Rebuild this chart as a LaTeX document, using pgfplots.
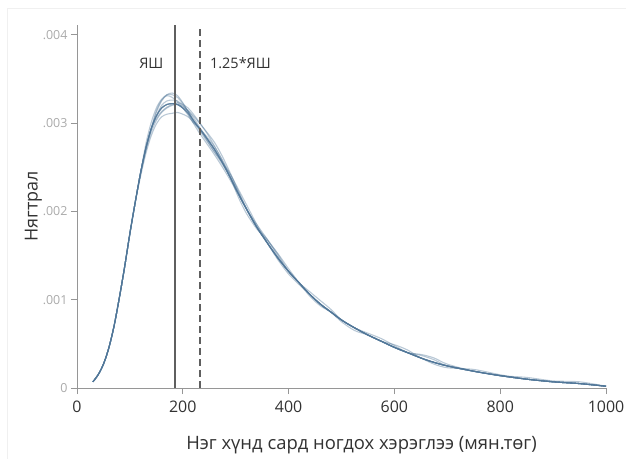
\documentclass[border=0pt]{standalone}
\usepackage{fontspec}
\setmainfont{Open Sans}
\usepackage{pgfplots}
\usepackage{pgfplotstable}
\pgfplotsset{compat=1.18}

\definecolor{curve}{RGB}{80,118,152}
\definecolor{vline}{RGB}{95,95,95}
\definecolor{axisgray}{RGB}{150,150,150}
\definecolor{ticklab}{RGB}{170,170,170}
\definecolor{labtext}{RGB}{50,50,50}

% density estimates, in units of 1e-5
\pgfplotstableread{
x    c1  c2  c3  c4  c5  c6  c7  c8  c9  c10 c11 c12
30   7   7   7   7   7   7   7   7   7   7   7   7
40   15  15  15  15  15  15  15  15  15  15  15  15
50   27  27  27  27  27  27  27  27  27  27  27  27
60   45  45  45  45  45  45  45  45  45  45  45  45
70   70  70  70  70  70  70  70  70  70  70  70  70
80   102 102 102 102 102 102 102 102 102 102 102 102
90   137 137 137 137 137 137 137 137 137 137 137 137
100  175 175 175 175 175 175 175 175 175 175 175 175
110  210 210 210 210 210 210 210 210 210 210 210 210
120  243 243 239 243 243 243 243 243 243 243 243 243
130  271 276 265 271 271 271 271 271 271 268 271 271
140  293 300 285 293 293 293 293 293 293 289 293 293
150  308 317 299 305 308 314 308 308 312 303 308 308
160  317 327 307 313 317 326 317 317 325 312 317 320
170  321 332 310 318 321 331 321 321 332 317 321 325
180  322 332 311 321 322 329 322 322 334 320 322 326
190  321 329 312 323 321 324 321 321 331 321 321 325
200  317 322 310 321 317 317 317 317 323 319 317 320
210  311 313 307 317 311 309 314 311 313 314 311 313
220  303 303 301 310 303 300 308 300 303 306 303 303
230  295 293 295 302 295 295 301 290 295 297 295 295
245  283 280 285 289 283 283 290 277 283 283 283 281
260  270 267 273 274 270 270 278 264 270 270 270 267
275  255 253 258 257 255 255 262 250 255 255 255 255
290  238 238 241 238 238 238 243 235 238 238 242 238
305  220 220 222 220 216 220 223 219 220 220 225 220
320  203 203 203 203 198 203 204 203 203 203 208 203
340  182 182 182 182 180 182 182 182 182 185 185 182
360  164 164 164 168 167 164 164 164 164 168 164 164
380  147 147 147 151 152 147 147 147 147 149 145 147
400  132 132 132 132 135 132 132 132 132 132 129 132
420  119 119 119 119 119 119 119 119 119 119 117 119
440  106 106 106 106 104 106 106 109 106 106 106 106
460  95  95  95  95  93  95  95  99  95  95  95  95
480  86  86  86  86  86  86  86  89  86  86  86  86
500  77  77  77  77  77  77  75  77  77  77  77  77
525  68  68  68  68  68  68  65  68  68  68  68  68
550  60  60  60  60  60  60  60  60  60  60  62  60
575  53  53  53  53  53  53  53  53  53  53  56  53
600  46  46  46  46  46  46  46  46  46  49  48  46
625  40  40  40  40  40  40  40  40  40  43  40  40
650  34  37  34  34  34  38  34  34  34  34  34  34
675  29  32  29  29  29  34  29  29  29  29  29  27
700  25  25  25  25  25  27  25  25  25  25  25  23
750  19  19  19  19  19  19  19  19  19  19  19  21
800  14  14  14  14  14  14  14  14  14  14  14  15
850  10  10  10  10  10  10  10  10  12  10  10  10
900  7   7   7   7   7   7   7   7   8   7   7   7
950  5   5   5   5   5   5   5   5   7   5   5   5
1000 2   2   2   2   2   2   2   2   2   2   2   2
}\dens

\begin{document}
\begin{tikzpicture}
\path[use as bounding box] (0,0) rectangle (626bp,459bp);
\draw[gray!12, line width=1bp] (7bp,0) -- (7bp,450bp) -- (626bp,450bp);
\begin{axis}[
    scale only axis,
    width=529bp, height=363bp,
    at={(77bp,71bp)}, anchor=south west,
    xmin=0, xmax=1000, ymin=0, ymax=411,
    axis lines*=left,
    axis line style={axisgray, line width=0.8bp},
    tick style={axisgray, line width=0.8bp},
    tick align=outside,
    major tick length=6bp,
    xtick={0,200,...,1000},
    ytick={0,100,200,300,400},
    yticklabels={0,.001,.002,.003,.004},
    /pgf/number format/assume math mode=true,
    /pgf/number format/1000 sep={},
    x tick label style={font=\fontsize{16}{18}\selectfont, text=labtext, yshift=-3bp},
    y tick label style={font=\fontsize{12.5}{14}\selectfont, text=ticklab},
    xlabel={Нэг хүнд сард ногдох хэрэглээ (мян.төг)},
    ylabel={Нягтрал},
    xlabel style={font=\fontsize{18.5}{21}\selectfont, text=labtext, yshift=-17bp, xshift=20bp},
    ylabel style={font=\fontsize{18}{21}\selectfont, text=labtext, yshift=-6bp},
    clip=false,
]
\foreach \c in {c1,c2,c3,c4,c5,c6,c7,c8,c9,c10,c11,c12}{
  \addplot[curve, opacity=0.4, line width=1.1bp, smooth, no markers] table[x=x, y=\c] {\dens};
}
\addplot[vline, line width=1.8bp, no markers] coordinates {(186,0) (186,411)};
\addplot[vline, line width=1.8bp, dash pattern=on 7bp off 4bp, no markers] coordinates {(232.5,0) (232.5,411)};
\node[anchor=east, font=\fontsize{14.5}{17}\selectfont, text=labtext] at (axis cs:170,368) {ЯШ};
\node[anchor=west, font=\fontsize{14.5}{17}\selectfont, text=labtext] at (axis cs:245,368) {1.25*ЯШ};
\end{axis}
\end{tikzpicture}
\end{document}
